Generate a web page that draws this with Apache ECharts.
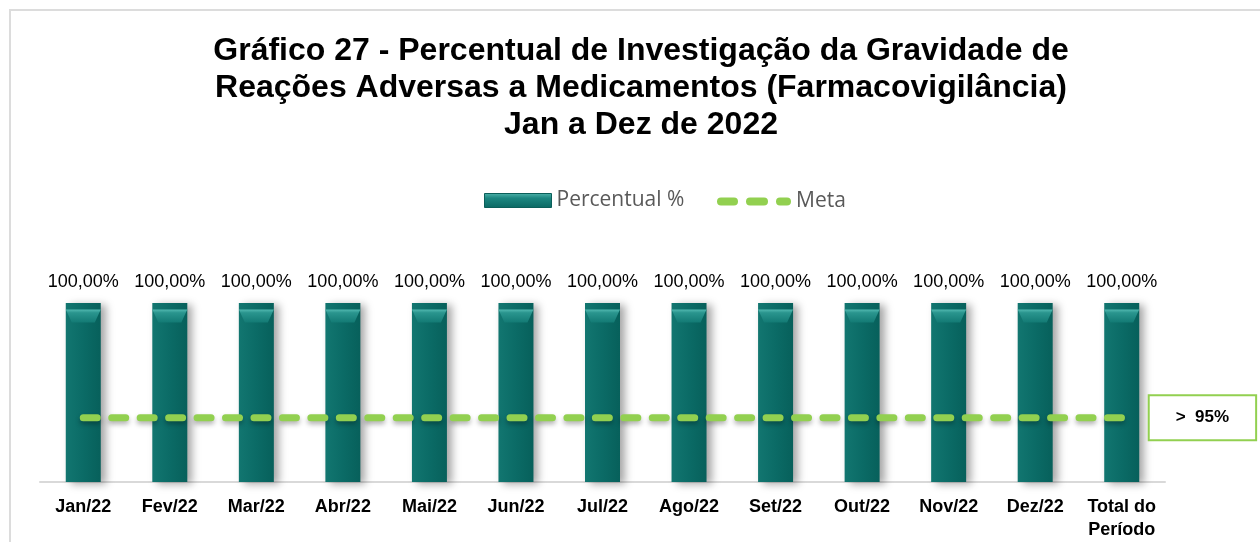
<!DOCTYPE html>
<html>
<head>
<meta charset="utf-8">
<style>
  html, body { margin: 0; padding: 0; background: #ffffff; }
  #chart { width: 1260px; height: 542px; }
</style>
<script src="https://cdn.jsdelivr.net/npm/echarts@6/dist/echarts.min.js"></script>
</head>
<body>
<div id="chart"></div>
<script>
// Months of 2022 plus the period total
const categories = ['Jan/22', 'Fev/22', 'Mar/22', 'Abr/22', 'Mai/22', 'Jun/22', 'Jul/22',
  'Ago/22', 'Set/22', 'Out/22', 'Nov/22', 'Dez/22', 'Total do\nPeríodo'];
// Percent of adverse drug reactions with severity investigated
const percentual = [100, 100, 100, 100, 100, 100, 100, 100, 100, 100, 100, 100, 100];
// Target (> 95%)
const meta = [95, 95, 95, 95, 95, 95, 95, 95, 95, 95, 95, 95, 95];

const teal = new echarts.graphic.LinearGradient(0, 0, 1, 0, [
  { offset: 0, color: '#127670' },
  { offset: 0.5, color: '#0b6b66' },
  { offset: 1, color: '#07605b' }
]);
const bevel = new echarts.graphic.LinearGradient(0, 0, 0, 1, [
  { offset: 0, color: '#52b8b0' },
  { offset: 0.25, color: '#2a958e' },
  { offset: 1, color: '#137a74' }
]);
const legendTeal = new echarts.graphic.LinearGradient(0, 0, 0, 1, [
  { offset: 0, color: '#4fb3ab' },
  { offset: 0.35, color: '#1c8680' },
  { offset: 1, color: '#0b6863' }
]);
const green = '#92d050';

const chart = echarts.init(document.getElementById('chart'), null, { renderer: 'canvas' });

chart.setOption({
  backgroundColor: '#ffffff',
  animation: false,
  title: {
    text: 'Gráfico 27 - Percentual de Investigação da Gravidade de\nReações Adversas a Medicamentos (Farmacovigilância)\nJan a Dez de 2022',
    left: 636,
    top: 28,
    textAlign: 'center',
    textStyle: {
      fontFamily: 'Liberation Sans, Arial, sans-serif',
      fontWeight: 'bold',
      fontSize: 32,
      lineHeight: 37,
      color: '#000000'
    }
  },
  legend: [
    {
      left: 479,
      top: 185,
      itemWidth: 67,
      itemHeight: 14,
      textStyle: { fontFamily: 'Open Sans, sans-serif', fontSize: 21, color: '#595959' },
      data: [{
        name: 'Percentual %',
        icon: 'rect',
        itemStyle: { color: legendTeal, borderColor: '#0b5f5a', borderWidth: 1 }
      }]
    },
    {
      left: 712,
      top: 186,
      itemWidth: 74,
      itemHeight: 8,
      textStyle: { fontFamily: 'Open Sans, sans-serif', fontSize: 21, color: '#595959' },
      data: [{
        name: 'Meta',
        icon: 'path://M4,0 H17 A4,4 0 0 1 17,8 H4 A4,4 0 0 1 4,0 Z M33,0 H47 A4,4 0 0 1 47,8 H33 A4,4 0 0 1 33,0 Z M63,0 H70 A4,4 0 0 1 70,8 H63 A4,4 0 0 1 63,0 Z',
        itemStyle: { color: green }
      }]
    }
  ],
  grid: { left: 40, right: 95, top: 303, bottom: 57 },
  xAxis: {
    type: 'category',
    data: categories,
    boundaryGap: true,
    axisLine: { show: true, lineStyle: { color: '#d9d9d9', width: 2 } },
    axisTick: { show: false },
    axisLabel: {
      interval: 0,
      margin: 14,
      fontFamily: 'Liberation Sans, Arial, sans-serif',
      fontWeight: 'bold',
      fontSize: 18,
      lineHeight: 23,
      color: '#000000'
    }
  },
  yAxis: {
    type: 'value',
    min: 92.2,
    max: 100,
    show: false,
    splitLine: { show: false }
  },
  graphic: [
    {
      type: 'rect',
      shape: { x: 10, y: 10, width: 1400, height: 700 },
      style: { fill: 'none', stroke: '#dcdcdc', lineWidth: 2 },
      silent: true,
      z: -10
    }
  ],
  series: [
    {
      name: 'Percentual %',
      type: 'bar',
      data: percentual,
      barWidth: 35,
      itemStyle: {
        color: teal,
        shadowColor: 'rgba(0,0,0,0.35)',
        shadowBlur: 8,
        shadowOffsetX: 5,
        shadowOffsetY: 2
      },
      label: {
        show: true,
        position: 'top',
        distance: 12,
        formatter: p => p.value.toFixed(2).replace('.', ',') + '%',
        fontFamily: 'Liberation Sans, Arial, sans-serif',
        fontSize: 18,
        color: '#000000'
      },
      z: 2
    },
    {
      // bevelled cap on top of each column
      name: 'bevel',
      type: 'pictorialBar',
      data: percentual,
      symbol: 'path://M0,0 L35,0 L29,13 L6,13 Z',
      symbolSize: [35, 13],
      symbolPosition: 'end',
      symbolOffset: [0, '50%'],
      itemStyle: { color: bevel },
      silent: true,
      z: 3
    },
    {
      name: 'Meta',
      type: 'line',
      data: meta,
      showSymbol: false,
      symbol: 'none',
      itemStyle: { color: green },
      lineStyle: {
        color: green,
        width: 7,
        type: [14, 14.45],
        cap: 'round',
        shadowColor: 'rgba(0,0,0,0.3)',
        shadowBlur: 5,
        shadowOffsetY: 3
      },
      endLabel: {
        show: true,
        distance: 28,
        formatter: p => '>  ' + p.value + '%',
        fontFamily: 'Liberation Sans, Arial, sans-serif',
        fontWeight: 'bold',
        fontSize: 17,
        color: '#000000',
        backgroundColor: '#ffffff',
        borderColor: green,
        borderWidth: 2,
        padding: [13, 26, 13, 26]
      },
      z: 4
    }
  ]
});
</script>
</body>
</html>
